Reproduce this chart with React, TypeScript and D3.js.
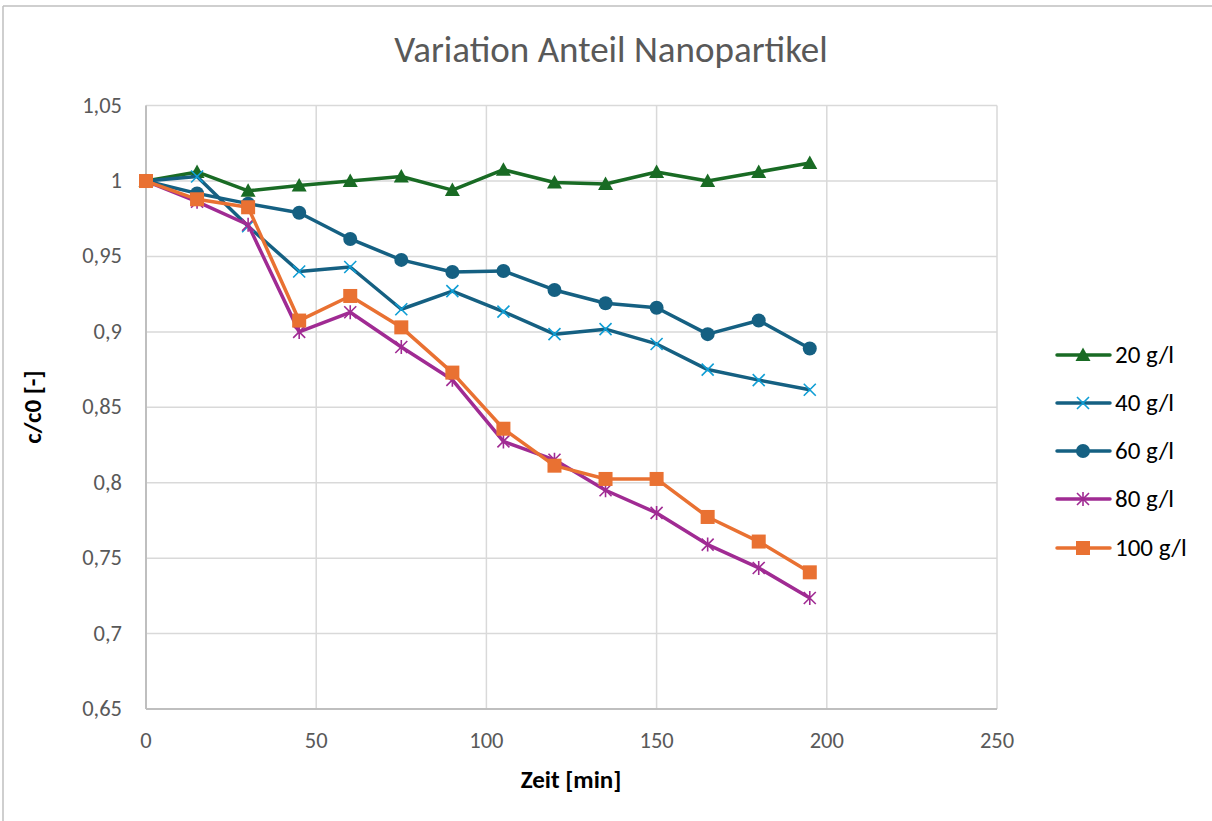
import React from 'react';
import * as d3 from 'd3';

const zeit = [0, 15, 30, 45, 60, 75, 90, 105, 120, 135, 150, 165, 180, 195];

const s20 = [1.0, 1.006, 0.9935, 0.997, 1.0, 1.003, 0.994, 1.0075, 0.999, 0.998, 1.006, 1.0, 1.006, 1.012];
const s40 = [1.0, 1.003, 0.97, 0.94, 0.943, 0.915, 0.927, 0.9134, 0.8985, 0.9018, 0.892, 0.875, 0.868, 0.8616];
const s60 = [1.0, 0.9918, 0.985, 0.979, 0.9616, 0.9477, 0.9397, 0.9404, 0.9278, 0.919, 0.916, 0.8985, 0.9075, 0.889];
const s80 = [1.0, 0.9863, 0.971, 0.9, 0.913, 0.89, 0.8682, 0.8274, 0.8152, 0.795, 0.78, 0.759, 0.7435, 0.7236];
const s100 = [1.0, 0.9879, 0.9826, 0.9075, 0.9238, 0.903, 0.873, 0.8358, 0.8113, 0.8025, 0.8025, 0.7773, 0.761, 0.7406];

const xTicks = [0, 50, 100, 150, 200, 250];
const yTicks = [0.65, 0.7, 0.75, 0.8, 0.85, 0.9, 0.95, 1.0, 1.05];

type Marker = 'triangle' | 'x' | 'circle' | 'star' | 'square';

const series: { name: string; values: number[]; line: string; mark: string; marker: Marker }[] = [
  { name: '20 g/l', values: s20, line: '#196B24', mark: '#196B24', marker: 'triangle' },
  { name: '40 g/l', values: s40, line: '#156082', mark: '#0F9ED5', marker: 'x' },
  { name: '60 g/l', values: s60, line: '#156082', mark: '#156082', marker: 'circle' },
  { name: '80 g/l', values: s80, line: '#A02B93', mark: '#A02B93', marker: 'star' },
  { name: '100 g/l', values: s100, line: '#E97132', mark: '#E97132', marker: 'square' },
];

const font = "Carlito, 'Liberation Sans Narrow', 'Open Sans', sans-serif";

function MarkerShape({ type, x, y, color }: { type: Marker; x: number; y: number; color: string }) {
  switch (type) {
    case 'triangle':
      return <path d={`M${x},${y - 7.5}L${x + 7.5},${y + 6}L${x - 7.5},${y + 6}Z`} fill={color} />;
    case 'circle':
      return <circle cx={x} cy={y} r={7} fill={color} />;
    case 'square':
      return <rect x={x - 7} y={y - 7} width={14} height={14} fill={color} />;
    case 'x':
      return (
        <path d={`M${x - 6},${y - 6}L${x + 6},${y + 6}M${x - 6},${y + 6}L${x + 6},${y - 6}`} stroke={color} strokeWidth={1.6} />
      );
    case 'star':
      return (
        <path
          d={`M${x - 6},${y - 6}L${x + 6},${y + 6}M${x - 6},${y + 6}L${x + 6},${y - 6}M${x},${y - 7}L${x},${y + 7}`}
          stroke={color}
          strokeWidth={1.6}
        />
      );
  }
  return null;
}

export default function App() {
  const width = 1212;
  const height = 821;
  const m = { left: 146, right: 997, top: 105.6, bottom: 709 };

  const x = d3.scaleLinear().domain([0, 250]).range([m.left, m.right]);
  const y = d3.scaleLinear().domain([0.65, 1.05]).range([m.bottom, m.top]);

  const line = d3
    .line<number>()
    .x((_, i) => x(zeit[i]))
    .y((d) => y(d));

  const fmt = (v: number) => String(+v.toFixed(2)).replace('.', ',');

  const legendY = [355, 403, 451, 499, 548];

  return (
    <div style={{ position: 'fixed', left: 0, top: 0 }}>
      <svg width={width} height={height} style={{ display: 'block', background: '#fff' }}>
        <line x1={3} y1={6} x2={width} y2={6} stroke="#bfbfbf" strokeWidth={1.5} />
        <line x1={3} y1={6} x2={3} y2={height} stroke="#bfbfbf" strokeWidth={1.5} />

        <text x={611} y={62} textAnchor="middle" fontFamily={font} fontSize={37} fill="#595959">
          Variation Anteil Nanopartikel
        </text>

        {yTicks.map((t) => (
          <g key={t}>
            <line x1={m.left} x2={m.right} y1={y(t)} y2={y(t)} stroke="#d9d9d9" strokeWidth={1.5} />
            <text x={122} y={y(t) + 7} textAnchor="end" fontFamily={font} fontSize={22.5} fill="#595959">
              {fmt(t)}
            </text>
          </g>
        ))}
        {xTicks.map((t) => (
          <g key={t}>
            <line x1={x(t)} x2={x(t)} y1={m.top} y2={m.bottom} stroke="#d9d9d9" strokeWidth={1.5} />
            <text x={x(t)} y={748} textAnchor="middle" fontFamily={font} fontSize={22.5} fill="#595959">
              {t}
            </text>
          </g>
        ))}
        <line x1={m.left} x2={m.left} y1={m.top} y2={m.bottom} stroke="#bfbfbf" strokeWidth={2} />
        <line x1={m.left} x2={m.right} y1={m.bottom} y2={m.bottom} stroke="#bfbfbf" strokeWidth={2} />

        <text x={571} y={788} textAnchor="middle" fontFamily={font} fontSize={25} fontWeight="bold" fill="#000">
          Zeit [min]
        </text>
        <text
          transform={`translate(41,${407}) rotate(-90)`}
          textAnchor="middle"
          fontFamily={font}
          fontSize={25}
          fontWeight="bold"
          fill="#000"
        >
          c/c0 [-]
        </text>

        {series.map((s) => (
          <g key={s.name}>
            <path d={line(s.values) || ''} fill="none" stroke={s.line} strokeWidth={3.5} strokeLinejoin="round" />
            {s.values.map((v, i) => (
              <MarkerShape key={i} type={s.marker} x={x(zeit[i])} y={y(v)} color={s.mark} />
            ))}
          </g>
        ))}

        {series.map((s, i) => (
          <g key={s.name}>
            <line x1={1057} x2={1110} y1={legendY[i]} y2={legendY[i]} stroke={s.line} strokeWidth={3.5} strokeLinecap="round" />
            <MarkerShape type={s.marker} x={1083} y={legendY[i]} color={s.mark} />
            <text x={1115} y={legendY[i] + 8} fontFamily={font} fontSize={25} fill="#000">
              {s.name}
            </text>
          </g>
        ))}
      </svg>
    </div>
  );
}
